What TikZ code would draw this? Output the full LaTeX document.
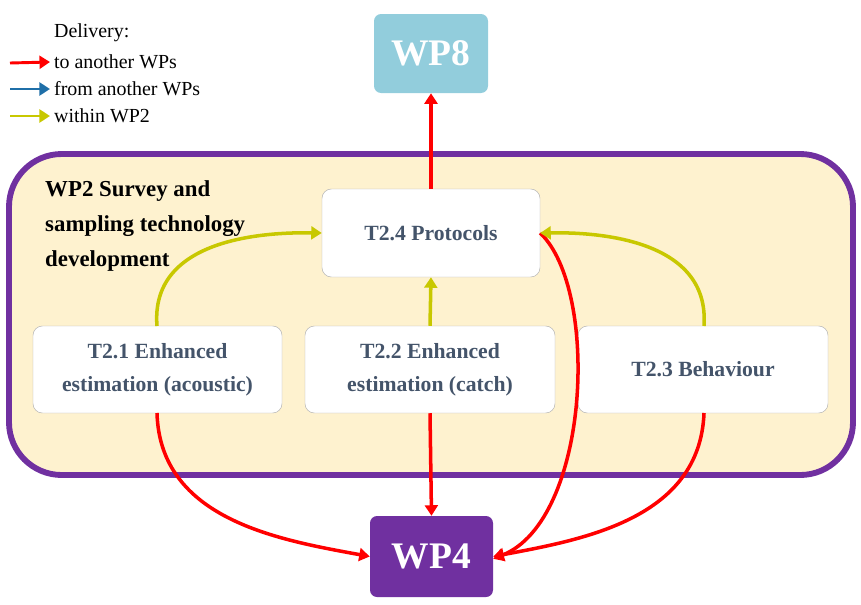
\documentclass[tikz,border=0pt]{standalone}
\usepackage{fontspec}
\setmainfont{Liberation Serif}
\usetikzlibrary{arrows.meta}
\definecolor{wpp}{HTML}{7030A0}
\definecolor{wpt}{HTML}{92CDDC}
\definecolor{bg}{HTML}{FEF2CF}
\definecolor{tx}{HTML}{44546A}
\definecolor{ry}{HTML}{FF0000}
\definecolor{yy}{HTML}{C8C800}
\definecolor{bb}{HTML}{1F6FA8}
\tikzset{
 task/.style={draw=gray!60,fill=white,rounded corners=8pt,align=center,text=tx,font=\bfseries\fontsize{18.5}{28}\selectfont},
 wp/.style={rounded corners=6pt,text=white,font=\bfseries\fontsize{32}{36}\selectfont},
 red/.style={draw=ry,line width=3pt,-{Triangle[length=9pt,width=11pt]}},
 yel/.style={draw=yy,line width=3pt,-{Triangle[length=9pt,width=11pt]}},
 blu/.style={draw=bb,line width=3pt,-{Triangle[length=9pt,width=11pt]}},
 leg/.style={anchor=west,font=\fontsize{17}{19}\selectfont}
}
\begin{document}
\begin{tikzpicture}[x=0.03cm,y=-0.03cm]
\useasboundingbox (0,0) rectangle (861,604);
\draw[draw=wpp,fill=bg,line width=5pt,rounded corners=45] (9,154) rectangle (853,475);
\node[anchor=north west,align=left,font=\bfseries\fontsize{19.5}{30}\selectfont,inner sep=0pt] (title) at (45,180) {WP2 Survey and\\sampling technology\\development};
\node[wp,fill=wpt,minimum width=114*0.03cm,minimum height=79*0.03cm] (wp8) at (431,53.5) {WP8};
\node[wp,fill=wpp,minimum width=123*0.03cm,minimum height=81*0.03cm] (wp4) at (431.5,556.5) {WP4};
\node[task,minimum width=218*0.03cm,minimum height=88*0.03cm] (t24) at (431,233) {T2.4 Protocols};
\node[task,minimum width=249*0.03cm,minimum height=87*0.03cm] (t21) at (157.5,369.5) {T2.1 Enhanced\\estimation (acoustic)};
\node[task,minimum width=250*0.03cm,minimum height=87*0.03cm] (t22) at (430,369.5) {T2.2 Enhanced\\estimation (catch)};
\node[task,minimum width=250*0.03cm,minimum height=87*0.03cm] (t23) at (703,369.5) {T2.3 Behaviour};
% legend
\node[leg] (d) at (50,33) {Delivery:};
\node[leg] (l1) at (50,62) {to another WPs};
\node[leg] (l2) at (50,89) {from another WPs};
\node[leg] (l3) at (50,116) {within WP2};
\coordinate (a1) at (10,63); \coordinate (a2) at (10,89); \coordinate (a3) at (10,116);
\draw[red,line width=2.5pt] (a1) -- (l1.west);
\draw[blu,line width=2.5pt] (a2) -- (l2.west);
\draw[yel,line width=2.5pt] (a3) -- (l3.west);
% arrows
\draw[red] (t24.north) -- (wp8.south);
\draw[red] (t22.south) -- (wp4.north);
\draw[red] (157,413) .. controls (160,520) and (280,540) .. (wp4.west);
\draw[red] (704,413) .. controls (700,520) and (580,540) .. (wp4.east);
\draw[red] (t24.east) .. controls (600,290) and (590,520) .. ([yshift=-2pt]wp4.east);
\draw[yel] (157,326) .. controls (150,240) and (260,232) .. (t24.west);
\draw[yel] (t22.north) -- (t24.south);
\draw[yel] (704,326) .. controls (710,240) and (600,232) .. (t24.east);
\end{tikzpicture}
\end{document}
